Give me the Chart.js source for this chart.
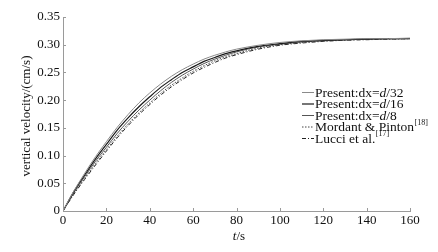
<!DOCTYPE html>
<html>
<head>
<meta charset="utf-8">
<script src="https://cdn.jsdelivr.net/npm/chart.js@4.4.1/dist/chart.umd.min.js"></script>
<style>
  html, body { margin: 0; padding: 0; background: #fff; }
  #wrap { width: 438px; height: 252px; position: relative; }
</style>
</head>
<body>
<div id="wrap"><canvas id="grafico" width="438" height="252"></canvas></div>
<script>
// tempo (s)
const tempo = [0, 5, 10, 15, 20, 25, 30, 35, 40, 45, 50, 55, 60, 65, 70, 75, 80, 90, 100, 110, 120, 130, 140, 150, 160];

// velocidades (cm/s)
const dx32 = [0, 0.036, 0.068, 0.098, 0.125, 0.151, 0.174, 0.195, 0.213, 0.229, 0.243, 0.255, 0.265, 0.274, 0.281, 0.287, 0.292, 0.299, 0.304, 0.307, 0.309, 0.310, 0.311, 0.311, 0.312];
const dx16 = [0, 0.035, 0.065, 0.094, 0.120, 0.146, 0.168, 0.188, 0.206, 0.223, 0.237, 0.250, 0.260, 0.270, 0.277, 0.284, 0.289, 0.297, 0.302, 0.306, 0.308, 0.309, 0.310, 0.311, 0.311];
const dx8 = [0, 0.033, 0.062, 0.090, 0.115, 0.140, 0.162, 0.182, 0.200, 0.217, 0.232, 0.245, 0.256, 0.266, 0.274, 0.281, 0.287, 0.296, 0.301, 0.305, 0.307, 0.309, 0.310, 0.311, 0.311];
const mordant = [0, 0.031, 0.059, 0.086, 0.111, 0.135, 0.157, 0.177, 0.195, 0.212, 0.227, 0.240, 0.252, 0.262, 0.271, 0.278, 0.284, 0.294, 0.300, 0.304, 0.307, 0.308, 0.310, 0.310, 0.311];
const lucci = [0, 0.030, 0.057, 0.083, 0.108, 0.132, 0.154, 0.174, 0.192, 0.209, 0.224, 0.237, 0.249, 0.259, 0.268, 0.276, 0.282, 0.292, 0.299, 0.303, 0.306, 0.308, 0.309, 0.310, 0.311];

// ticks dos eixos
const ticksX = [0, 20, 40, 60, 80, 100, 120, 140, 160];
const ticksY = [0, 0.05, 0.10, 0.15, 0.20, 0.25, 0.30, 0.35];

// legendas: partes do texto (normal / itálico / sobrescrito)
const legendas = [
    [["Present:dx=", "n"], ["d", "i"], ["/32", "n"]],
    [["Present:dx=", "n"], ["d", "i"], ["/16", "n"]],
    [["Present:dx=", "n"], ["d", "i"], ["/8", "n"]],
    [["Mordant & Pinton", "n"], ["[18]", "s"]],
    [["Lucci et al.", "n"], ["[17]", "s"]]
];

const FONTE = '"Liberation Serif", "Times New Roman", serif';

function pontos(valores) {
    return tempo.map((t, i) => ({ x: t, y: valores[i] }));
}

const series = [
    { data: dx32, cor: '#8a8a8a', largura: 1, traco: [] },
    { data: dx16, cor: '#1a1a1a', largura: 1.2, traco: [] },
    { data: dx8, cor: '#555555', largura: 1, traco: [] },
    { data: mordant, cor: '#444444', largura: 1, traco: [1.5, 1.5] },
    { data: lucci, cor: '#222222', largura: 1, traco: [4, 2, 1, 2] }
];

// desenha ticks internos, títulos dos eixos e legenda
const extras = {
    id: 'extras',
    afterDraw(chart) {
        const ctx = chart.ctx;
        const sx = chart.scales.x, sy = chart.scales.y;
        const area = chart.chartArea;
        ctx.save();
        ctx.strokeStyle = '#9a9a9a';
        ctx.lineWidth = 1;
        ctx.beginPath();
        ticksX.forEach(v => {
            const px = Math.round(sx.getPixelForValue(v)) + 0.5;
            ctx.moveTo(px, area.bottom);
            ctx.lineTo(px, area.bottom - 3);
        });
        ticksY.forEach(v => {
            const py = Math.round(sy.getPixelForValue(v)) + 0.5;
            ctx.moveTo(area.left, py);
            ctx.lineTo(area.left + 3, py);
        });
        ctx.stroke();

        ctx.fillStyle = '#111';
        // título eixo x: t/s
        ctx.textBaseline = 'middle';
        ctx.textAlign = 'left';
        ctx.font = 'italic 13px ' + FONTE;
        const wt = ctx.measureText('t').width;
        ctx.font = '13px ' + FONTE;
        const ws = ctx.measureText('/s').width;
        const cx = 239 - (wt + ws) / 2;
        ctx.font = 'italic 13px ' + FONTE;
        ctx.fillText('t', cx, 237);
        ctx.font = '13px ' + FONTE;
        ctx.fillText('/s', cx + wt, 237);

        // título eixo y
        ctx.save();
        ctx.translate(27, (area.top + area.bottom) / 2 + 2);
        ctx.rotate(-Math.PI / 2);
        ctx.textAlign = 'center';
        ctx.font = '13px ' + FONTE;
        ctx.fillText('vertical velocity/(cm/s)', 0, 0);
        ctx.restore();

        // legenda
        const ds = chart.data.datasets;
        legendas.forEach((partes, i) => {
            const y = 92 + i * 11.5;
            ctx.save();
            ctx.strokeStyle = ds[i].borderColor;
            ctx.lineWidth = ds[i].borderWidth;
            ctx.setLineDash(ds[i].borderDash || []);
            ctx.beginPath();
            ctx.moveTo(302, y + 0.5);
            ctx.lineTo(314, y + 0.5);
            ctx.stroke();
            ctx.restore();
            let x = 315;
            partes.forEach(([txt, tipo]) => {
                if (tipo === 's') {
                    ctx.font = '8px ' + FONTE;
                    ctx.fillText(txt, x + 0.5, y - 4);
                } else {
                    ctx.font = (tipo === 'i' ? 'italic ' : '') + '13.5px ' + FONTE;
                    ctx.fillText(txt, x, y + 1);
                }
                x += ctx.measureText(txt).width;
            });
        });
        ctx.restore();
    }
};

const ctx = document.getElementById('grafico').getContext('2d');
new Chart(ctx, {
    type: 'line',
    data: {
        datasets: series.map(s => ({
            data: pontos(s.data),
            borderColor: s.cor,
            borderWidth: s.largura,
            borderDash: s.traco,
            pointRadius: 0,
            fill: false,
            tension: 0.4,
            cubicInterpolationMode: 'monotone'
        }))
    },
    options: {
        responsive: false,
        animation: false,
        events: [],
        layout: { padding: { top: 17, right: 28, left: 0, bottom: 0 } },
        plugins: { legend: { display: false }, tooltip: { enabled: false } },
        scales: {
            x: {
                type: 'linear',
                min: 0, max: 160,
                afterFit: (scale) => { scale.height = 41; },
                afterBuildTicks: (scale) => { scale.ticks = ticksX.map(v => ({ value: v })); },
                grid: { display: true, drawOnChartArea: false, drawTicks: false },
                border: { color: '#9a9a9a', width: 1 },
                ticks: {
                    padding: 2,
                    color: '#111',
                    font: { family: FONTE, size: 13 },
                    maxRotation: 0,
                    callback: v => String(v)
                }
            },
            y: {
                type: 'linear',
                min: 0, max: 0.35,
                afterFit: (scale) => { scale.width = 63; },
                afterBuildTicks: (scale) => { scale.ticks = ticksY.map(v => ({ value: v })); },
                grid: { display: true, drawOnChartArea: false, drawTicks: false },
                border: { color: '#9a9a9a', width: 1 },
                ticks: {
                    padding: 3,
                    color: '#111',
                    font: { family: FONTE, size: 13 },
                    callback: v => v === 0 ? '0' : v.toFixed(2)
                }
            }
        }
    },
    plugins: [extras]
});
</script>
</body>
</html>
